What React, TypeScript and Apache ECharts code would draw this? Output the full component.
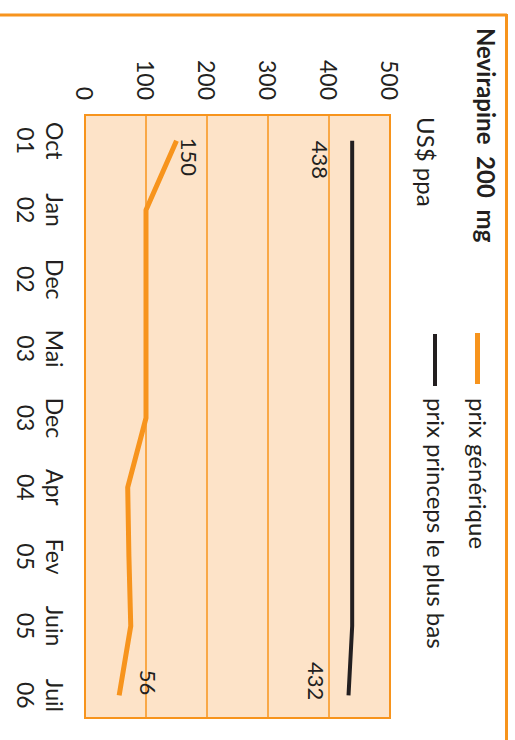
import React, { useEffect, useRef } from "react";
import * as echarts from "echarts";

const categories = ["Oct\n01", "Jan\n02", "Dec\n02", "Mai\n03", "Dec\n03", "Apr\n04", "Fev\n05", "Juin\n05", "Juil\n06"];
const generique = [150, 100, 100, 100, 100, 70, 72, 75, 56];
const princeps = [438, 438, 438, 438, 438, 438, 438, 438, 432];
const valueTicks = [0, 100, 200, 300, 400, 500];
const titleText = "Nevirapine  200  mg";
const unitText = "US$ ppa";
const legendNames = ["prix générique", "prix princeps le plus bas"];

const ORANGE = "#F7941D";
const PEACH = "#FDE3C8";
const DARK = "#231F20";
const FONT = "Lato";

export default function App() {
  const ref = useRef<HTMLDivElement>(null);
  useEffect(() => {
    if (!ref.current) return;
    const chart = echarts.init(ref.current, undefined, { renderer: "svg" });
    const lastIdx = categories.length - 1;
    const labelBase = { show: true, color: DARK, fontSize: 22, fontFamily: FONT };
    const genData = generique.map((v, i) => {
      if (i === 0)
        return { value: v, label: { ...labelBase, position: "top", align: "left", verticalAlign: "bottom", distance: 2, offset: [-3, 0] } };
      if (i === lastIdx)
        return { value: v, label: { ...labelBase, position: "top", align: "right", verticalAlign: "bottom", distance: 18, offset: [0, 0] } };
      return { value: v };
    });
    const priData = princeps.map((v, i) => {
      if (i === 0)
        return { value: v, label: { ...labelBase, position: "bottom", align: "left", verticalAlign: "top", distance: 21, offset: [0, 0] } };
      if (i === lastIdx)
        return { value: v, label: { ...labelBase, position: "bottom", align: "right", verticalAlign: "top", distance: 21, offset: [5, 0] } };
      return { value: v };
    });
    const vMin = valueTicks[0];
    const vMax = valueTicks[valueTicks.length - 1];
    chart.setOption({
      animation: false,
      textStyle: { fontFamily: FONT },
      grid: [
        {
          left: 115,
          right: 22,
          top: 125,
          bottom: 85,
          show: true,
          backgroundColor: PEACH,
          borderColor: ORANGE,
          borderWidth: 2,
        },
        { left: 106, right: 10, top: 125, bottom: 85 },
      ],
      xAxis: [
        { type: "category", gridIndex: 0, data: categories, show: false },
        {
          type: "category",
          gridIndex: 1,
          data: categories,
          boundaryGap: true,
          axisLine: { show: false },
          axisTick: { show: false },
          splitLine: { show: false },
          axisLabel: { color: DARK, fontSize: 23, lineHeight: 29, margin: 16, fontFamily: FONT, interval: 0 },
        },
      ],
      yAxis: [
        {
          type: "value",
          gridIndex: 0,
          min: vMin,
          max: vMax,
          interval: 100,
          axisLine: { show: false },
          axisTick: { show: false },
          axisLabel: { color: DARK, fontSize: 23, margin: 15, fontFamily: FONT },
          splitLine: { show: true, lineStyle: { color: ORANGE, width: 1.5 } },
        },
        {
          type: "value",
          gridIndex: 1,
          min: vMin,
          max: vMax,
          interval: 100,
          show: false,
          splitLine: { show: false },
        },
      ],
      series: [
        {
          name: legendNames[0],
          type: "line",
          xAxisIndex: 1,
          yAxisIndex: 1,
          data: genData,
          showSymbol: true,
          symbol: "circle",
          symbolSize: 0.001,
          itemStyle: { color: ORANGE },
          lineStyle: { color: ORANGE, width: 5 },
          emphasis: { disabled: true },
          z: 3,
        },
        {
          name: legendNames[1],
          type: "line",
          xAxisIndex: 1,
          yAxisIndex: 1,
          data: priData,
          showSymbol: true,
          symbol: "circle",
          symbolSize: 0.001,
          itemStyle: { color: DARK },
          lineStyle: { color: DARK, width: 4 },
          emphasis: { disabled: true },
          z: 3,
        },
      ],
      graphic: [
        { type: "line", shape: { x1: 15, y1: 8, x2: 15, y2: 515 }, style: { stroke: ORANGE, lineWidth: 3 } },
        { type: "line", shape: { x1: 14, y1: 8.5, x2: 740, y2: 8.5 }, style: { stroke: ORANGE, lineWidth: 3 } },
        { type: "text", left: 28, top: 17, style: { text: titleText, fontSize: 24, fontWeight: "bold", fill: DARK, fontFamily: FONT } },
        { type: "text", left: 117, top: 77, style: { text: unitText, fontSize: 24, fill: DARK, fontFamily: FONT } },
        { type: "line", shape: { x1: 333, y1: 37.5, x2: 384, y2: 37.5 }, style: { stroke: ORANGE, lineWidth: 5 } },
        { type: "text", x: 398, y: 37, style: { text: legendNames[0], fontSize: 24, fill: DARK, fontFamily: FONT, verticalAlign: "middle" } },
        { type: "line", shape: { x1: 334, y1: 80, x2: 386, y2: 80 }, style: { stroke: DARK, lineWidth: 4 } },
        { type: "text", x: 398, y: 79, style: { text: legendNames[1], fontSize: 24, fill: DARK, fontFamily: FONT, verticalAlign: "middle" } },
      ],
    });
    return () => chart.dispose();
  }, []);
  return (
    <div style={{ position: "fixed", left: 0, top: 0, width: 515, height: 740, overflow: "hidden", background: "#fff" }}>
      <div
        ref={ref}
        style={{
          position: "absolute",
          left: 0,
          top: 0,
          width: 740,
          height: 515,
          transformOrigin: "0 0",
          transform: "translate(515px, 0) rotate(90deg)",
        }}
      />
    </div>
  );
}
